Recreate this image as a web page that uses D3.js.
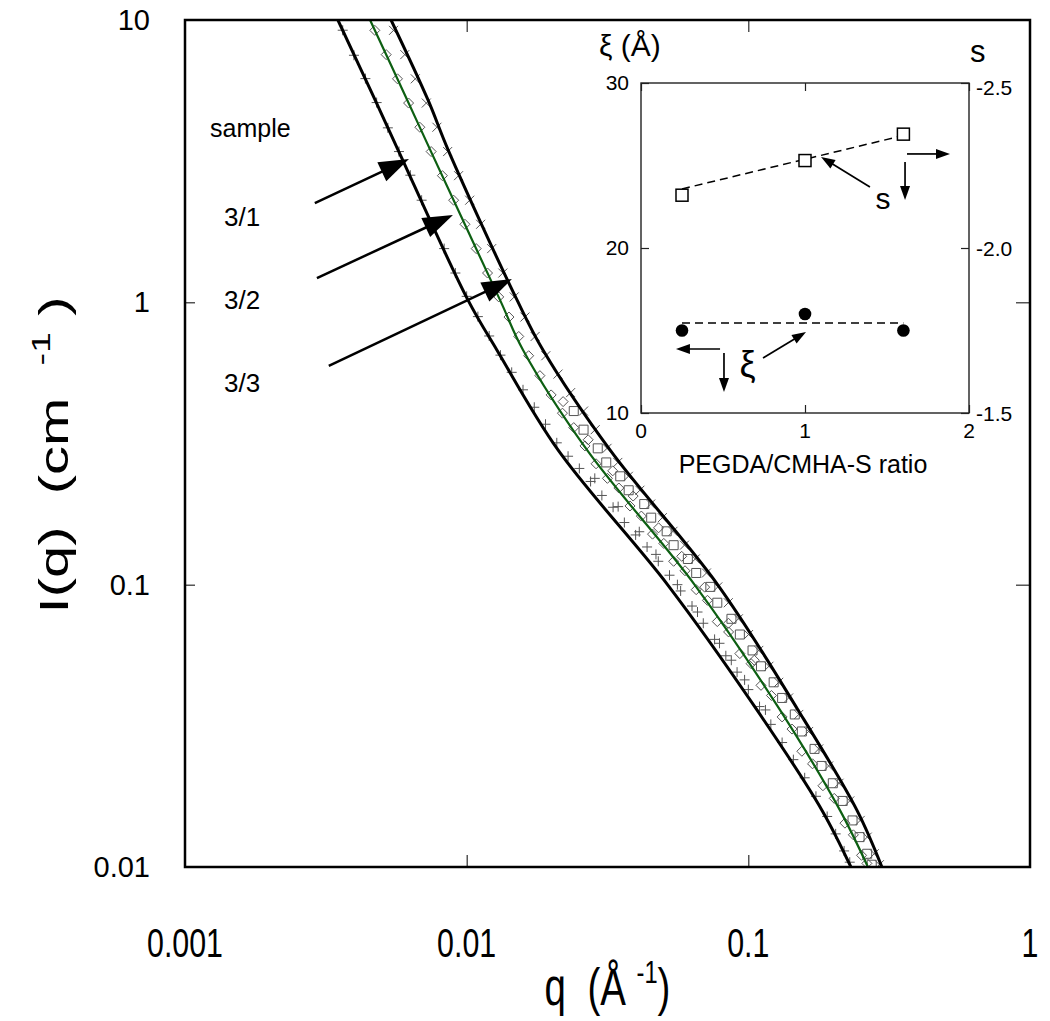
<!DOCTYPE html>
<html><head><meta charset="utf-8">
<script src="https://cdn.jsdelivr.net/npm/d3@7"></script>
<style>body{margin:0;background:#fff} svg{display:block} text{font-family:"Liberation Sans",Arial,sans-serif;fill:#000;white-space:pre}</style>
</head><body><svg id="c" width="1050" height="1021"></svg>
<script>
// ---------------- main plot data ----------------
const qTicks = [0.001, 0.01, 0.1, 1];
const iTicks = [0.01, 0.1, 1, 10];
const sampleLabels = ["3/1", "3/2", "3/3"];

// fit curves
const fitI   = [10, 5.21, 3.46, 1.02, 0.678, 0.300, 0.0997, 0.0360, 0.0159, 0.0100];
const fit31Q = [0.00349, 0.00473, 0.00571, 0.0101, 0.0128, 0.0211, 0.0518, 0.1073, 0.1825, 0.2313];
const fit32Q = [0.00454, 0.00615, 0.00743, 0.01313, 0.01585, 0.02674, 0.0646, 0.1295, 0.2114, 0.2658];
const fit33Q = [0.00539, 0.00729, 0.0086, 0.01509, 0.01866, 0.03227, 0.0780, 0.1501, 0.2429, 0.2980];

// sample 3/1 data (+)
const s31Q = [0.00363,0.00398,0.00437,0.00479,0.00525,0.00575,0.00631,0.00692,0.00759,0.00832,0.00912,0.0100,0.01096,0.01202,0.01318,0.01445,0.01585,0.01738,0.01905,0.02089,0.02291,0.02512,0.02754,0.0302,0.0331,0.0363,0.0398,0.0437,0.0479,0.0525,0.0575,0.0631,0.0692,0.0759,0.0832,0.0912,0.100,0.1096,0.1202,0.1318,0.1445,0.1585,0.1738,0.1905,0.2042,0.2188,0.2291,
  0.0285,0.0345,0.041,0.047,0.056,0.066,0.079,0.087,0.097,0.115];
const s31I = [9.2,7.5,6.2,5.1,4.15,3.42,2.82,2.30,1.89,1.55,1.27,1.05,0.89,0.76,0.65,0.565,0.49,0.425,0.37,0.318,0.285,0.258,0.232,0.207,0.188,0.166,0.150,0.136,0.121,0.108,0.095,0.084,0.073,0.064,0.056,0.049,0.0425,0.037,0.032,0.0276,0.0240,0.0207,0.0178,0.0151,0.0131,0.0114,0.0104,
  0.238,0.189,0.154,0.128,0.100,0.080,0.062,0.054,0.046,0.036];

// sample 3/2 data (diamonds)
const s32Q = [0.00472,0.00518,0.00568,0.00622,0.00682,0.00748,0.00820,0.00899,0.00986,0.01081,0.01186,0.01300,0.01413,0.01531,0.0166,0.0182,0.01995,0.02188,0.0240,0.0263,0.0288,0.0316,0.0347,0.0380,0.0417,0.0457,0.0501,0.0543,0.0596,0.0653,0.0716,0.0776,0.0851,0.0933,0.1023,0.1109,0.1208,0.1318,0.1429,0.1549,0.169,0.184,0.2018,0.2203,0.236,0.2523,0.2636,
  0.022,0.027,0.033,0.039,0.048,0.058,0.070,0.085,0.105];
const s32I = [9.19,7.54,6.19,5.08,4.17,3.42,2.81,2.30,1.89,1.55,1.27,1.045,0.887,0.757,0.647,0.55,0.47,0.405,0.36,0.31,0.268,0.238,0.22,0.19,0.175,0.151,0.14,0.121,0.112,0.096,0.088,0.074,0.068,0.057,0.0525,0.044,0.0405,0.034,0.0308,0.0257,0.0232,0.0194,0.0175,0.0143,0.0130,0.0110,0.0103,
  0.445,0.326,0.253,0.206,0.159,0.126,0.098,0.073,0.054];

// squares between 3/2 and 3/3
const sSqQ = [0.0240,0.0260,0.0292,0.0313,0.0351,0.0376,0.0427,0.0452,0.0513,0.0543,0.0610,0.0653,0.0733,0.0776,0.0871,0.0933,0.1035,0.1109,0.1230,0.1318,0.1462,0.1549,0.1718,0.1820,0.1995,0.2163,0.2344,0.2483,0.2642,0.2742];
const sSqI = [0.412,0.354,0.304,0.271,0.242,0.216,0.193,0.1727,0.1545,0.138,0.1233,0.110,0.0982,0.0863,0.0757,0.0666,0.0585,0.0514,0.0451,0.0397,0.0347,0.0302,0.0262,0.0228,0.0198,0.01714,0.01462,0.01276,0.01114,0.01019];

// sample 3/3 data (x)
const s33Q = [0.00550,0.00603,0.00657,0.00719,0.00784,0.00856,0.00936,0.01025,0.01121,0.01227,0.01344,0.01475,0.0161,0.0175,0.0191,0.0211,0.0234,0.0260,0.0286,0.0315,0.0344,0.0375,0.0412,0.0450,0.0495,0.0540,0.0593,0.0648,0.0710,0.0779,0.0849,0.0922,0.1002,0.1089,0.1183,0.1282,0.1390,0.1510,0.1637,0.1778,0.1928,0.2099,0.2291,0.2495,0.2643,0.2800,0.2920];
const s33I = [9.19,7.54,6.19,5.08,4.17,3.42,2.81,2.30,1.89,1.55,1.27,1.045,0.887,0.757,0.647,0.557,0.479,0.412,0.354,0.304,0.271,0.242,0.216,0.193,0.1727,0.1545,0.138,0.1233,0.110,0.0982,0.0863,0.0757,0.0666,0.0585,0.0514,0.0451,0.0397,0.0347,0.0302,0.0262,0.0228,0.0198,0.01714,0.01462,0.01276,0.01114,0.01019];

// ---------------- inset data ----------------
const ratio = [0.25, 1.0, 1.6];
const xiVals = [15.0, 16.0, 15.0];
const sVals = [-2.16, -2.265, -2.345];
const fitRatio = [0.25, 1.6];
const xiFit = [15.45, 15.45];
const sFit = [-2.179, -2.341];
const inXTicks = [0, 1, 2];
const inXiTicks = [10, 20, 30];
const inSTicks = [-1.5, -2.0, -2.5];

// ---------------- drawing ----------------
const svg = d3.select("#c");
const L = 185, R = 1030, T = 20, B = 867;
const x = d3.scaleLog().domain([0.001, 1]).range([L, R]);
const y = d3.scaleLog().domain([0.01, 10]).range([B, T]);

svg.append("defs").append("clipPath").attr("id", "clip")
  .append("rect").attr("x", L).attr("y", T).attr("width", R - L).attr("height", B - T);

const plot = svg.append("g").attr("clip-path", "url(#clip)");
const mk = "#555";

function zip(qs, is) { return qs.map((q, i) => [q, is[i]]); }

function plusPath(s) { return `M${-s},0H${s}M0,${-s}V${s}`; }
function timesPath(s) { return `M${-s},${-s}L${s},${s}M${-s},${s}L${s},${-s}`; }
function diamondPath(s) { return `M0,${-s}L${s},0L0,${s}L${-s},0Z`; }
function squarePath(s) { return `M${-s},${-s}H${s}V${s}H${-s}Z`; }

function drawMarkers(data, pathStr) {
  plot.append("g").selectAll("path").data(data).join("path")
    .attr("transform", d => `translate(${x(d[0])},${y(d[1])})`)
    .attr("d", pathStr).attr("fill", "none").attr("stroke", mk).attr("stroke-width", 1);
}
drawMarkers(zip(sSqQ, sSqI), squarePath(4.5));
drawMarkers(zip(s32Q, s32I), diamondPath(5));
drawMarkers(zip(s33Q, s33I), timesPath(4.5));
drawMarkers(zip(s31Q, s31I), plusPath(5));

const line = d3.line().x(d => x(d[0])).y(d => y(d[1])).curve(d3.curveCatmullRom.alpha(0.5));
plot.append("path").datum(zip(fit31Q, fitI)).attr("d", line).attr("fill", "none").attr("stroke", "#000").attr("stroke-width", 3);
plot.append("path").datum(zip(fit33Q, fitI)).attr("d", line).attr("fill", "none").attr("stroke", "#000").attr("stroke-width", 3);
plot.append("path").datum(zip(fit32Q, fitI)).attr("d", line).attr("fill", "none").attr("stroke", "#0d5f12").attr("stroke-width", 2.2);

function styleAxis(g) {
  g.select(".domain").remove();
  g.selectAll(".tick line").attr("stroke", "#000").attr("stroke-width", 1);
  g.selectAll(".tick text").remove();
}
svg.append("g").attr("transform", `translate(0,${B})`).call(d3.axisBottom(x).tickValues(qTicks).tickSize(-12).tickSizeOuter(0)).call(styleAxis);
svg.append("g").attr("transform", `translate(0,${T})`).call(d3.axisTop(x).tickValues(qTicks).tickSize(-12).tickSizeOuter(0)).call(styleAxis);
svg.append("g").attr("transform", `translate(${L},0)`).call(d3.axisLeft(y).tickValues(iTicks).tickSize(-10).tickSizeOuter(0)).call(styleAxis);
svg.append("g").attr("transform", `translate(${R},0)`).call(d3.axisRight(y).tickValues(iTicks).tickSize(-14).tickSizeOuter(0)).call(styleAxis);

svg.append("rect").attr("x", L).attr("y", T).attr("width", R - L).attr("height", B - T)
  .attr("fill", "none").attr("stroke", "#000").attr("stroke-width", 2.5);

// tick labels
svg.append("g").selectAll("text").data(qTicks).join("text")
  .attr("transform", d => `translate(${x(d)},957) scale(0.76,1)`)
  .attr("text-anchor", "middle").attr("font-size", 40).text(d => String(d));
svg.append("g").selectAll("text").data(iTicks).join("text")
  .attr("x", 150).attr("y", d => y(d) + 10).attr("text-anchor", "end").attr("font-size", 29).text(d => String(d));

// axis titles
const xt = svg.append("text").attr("transform", `translate(${(L + R) / 2},1005) scale(0.74,1)`)
  .attr("text-anchor", "middle").attr("font-size", 52);
xt.append("tspan").text("q  (Å ");
xt.append("tspan").attr("font-size", 32).attr("dy", -22).text("-1");
xt.append("tspan").attr("dy", 22).text(")");

const yt = svg.append("text").attr("transform", `translate(68,455) rotate(-90) scale(1.45,1)`)
  .attr("text-anchor", "middle").attr("font-size", 40);
yt.append("tspan").text("I(q)  (cm  ");
yt.append("tspan").attr("font-size", 26).attr("dy", -18).text("-1");
yt.append("tspan").attr("dy", 18).text(" )");

// sample annotation
svg.append("text").attr("x", 210).attr("y", 137).attr("font-size", 25).text("sample");
svg.append("g").selectAll("text").data(sampleLabels).join("text")
  .attr("x", 224).attr("y", (d, i) => 226 + i * 83).attr("font-size", 26).text(d => d);

function arrow(g, x1, y1, x2, y2, len, half, w) {
  const ang = Math.atan2(y2 - y1, x2 - x1);
  const bx = x2 - len * Math.cos(ang), by = y2 - len * Math.sin(ang);
  g.append("line").attr("x1", x1).attr("y1", y1).attr("x2", bx + 2 * Math.cos(ang)).attr("y2", by + 2 * Math.sin(ang))
    .attr("stroke", "#000").attr("stroke-width", w);
  const px = -Math.sin(ang) * half, py = Math.cos(ang) * half;
  g.append("path").attr("d", `M${x2},${y2}L${bx + px},${by + py}L${bx - px},${by - py}Z`).attr("fill", "#000");
}
const arrowsMain = [
  [[0.00289, 2.247], [0.00624, 3.22]],
  [[0.00294, 1.219], [0.00894, 2.039]],
  [[0.00324, 0.595], [0.01448, 1.209]]
];
const ag = svg.append("g");
arrowsMain.forEach(a => arrow(ag, x(a[0][0]), y(a[0][1]), x(a[1][0]), y(a[1][1]), 30, 10.5, 2.5));

// ---------------- inset ----------------
const iL = 641, iR = 969, iT = 83, iB = 413;
const ix = d3.scaleLinear().domain([0, 2]).range([iL, iR]);
const iy = d3.scaleLinear().domain([10, 30]).range([iB, iT]);
const is = d3.scaleLinear().domain([-1.5, -2.5]).range([iB, iT]);
const ins = svg.append("g");

function styleIn(g) {
  g.select(".domain").remove();
  g.selectAll(".tick line").attr("stroke", "#222").attr("stroke-width", 1.2);
  g.selectAll(".tick text").remove();
}
ins.append("g").attr("transform", `translate(0,${iB})`).call(d3.axisBottom(ix).tickValues(inXTicks).tickSize(-8).tickSizeOuter(0)).call(styleIn);
ins.append("g").attr("transform", `translate(0,${iT})`).call(d3.axisTop(ix).tickValues(inXTicks).tickSize(-8).tickSizeOuter(0)).call(styleIn);
ins.append("g").attr("transform", `translate(${iL},0)`).call(d3.axisLeft(iy).tickValues(inXiTicks).tickSize(-8).tickSizeOuter(0)).call(styleIn);
ins.append("g").attr("transform", `translate(${iR},0)`).call(d3.axisRight(is).tickValues(inSTicks).tickSize(-8).tickSizeOuter(0)).call(styleIn);
ins.append("rect").attr("x", iL).attr("y", iT).attr("width", iR - iL).attr("height", iB - iT)
  .attr("fill", "none").attr("stroke", "#222").attr("stroke-width", 1.4);

ins.append("g").selectAll("text").data(inXiTicks).join("text")
  .attr("x", 629).attr("y", d => iy(d) + 7).attr("text-anchor", "end").attr("font-size", 21).text(d => d);
ins.append("g").selectAll("text").data(inSTicks).join("text")
  .attr("x", 976).attr("y", (d, i) => is(d) + (i === 2 ? 12 : 8)).attr("font-size", 21).text(d => d3.format(".1f")(d).replace("−", "-"));
ins.append("g").selectAll("text").data(inXTicks).join("text")
  .attr("x", d => ix(d)).attr("y", 438).attr("text-anchor", "middle").attr("font-size", 21).text(d => d);
ins.append("text").attr("x", 803).attr("y", 473).attr("text-anchor", "middle").attr("font-size", 25).text("PEGDA/CMHA-S ratio");
ins.append("text").attr("x", 599).attr("y", 56).attr("font-size", 30).text("ξ (Å)");
ins.append("text").attr("x", 970).attr("y", 62).attr("font-size", 31).text("s");

ins.append("line").attr("x1", ix(fitRatio[0])).attr("y1", iy(xiFit[0])).attr("x2", ix(fitRatio[1])).attr("y2", iy(xiFit[1]))
  .attr("stroke", "#000").attr("stroke-width", 1.5).attr("stroke-dasharray", "8,5");
ins.append("line").attr("x1", ix(fitRatio[0])).attr("y1", is(sFit[0])).attr("x2", ix(fitRatio[1])).attr("y2", is(sFit[1]))
  .attr("stroke", "#000").attr("stroke-width", 1.5).attr("stroke-dasharray", "8,5");

ins.append("g").selectAll("circle").data(ratio).join("circle")
  .attr("cx", d => ix(d)).attr("cy", (d, i) => iy(xiVals[i])).attr("r", 6.3).attr("fill", "#000");
ins.append("g").selectAll("rect").data(ratio).join("rect")
  .attr("x", d => ix(d) - 6).attr("y", (d, i) => is(sVals[i]) - 6).attr("width", 12).attr("height", 12)
  .attr("fill", "#fff").attr("stroke", "#000").attr("stroke-width", 1.5);

const inArrows = [
  [[1.396, 23.70], [1.098, 25.52]],
  [[1.622, 25.70], [1.884, 25.70]],
  [[1.61, 25.21], [1.61, 22.91]],
  [[0.744, 13.33], [1.006, 14.91]],
  [[0.482, 13.88], [0.213, 13.88]],
  [[0.506, 13.64], [0.506, 11.27]]
];
inArrows.forEach(a => arrow(ins, ix(a[0][0]), iy(a[0][1]), ix(a[1][0]), iy(a[1][1]), 14, 5, 1.7));
ins.append("text").attr("x", ix(1.43)).attr("y", iy(22.35)).attr("font-size", 30).text("s");
ins.append("text").attr("x", ix(0.6)).attr("y", iy(12.2)).attr("font-size", 36).text("ξ");
</script></body></html>
